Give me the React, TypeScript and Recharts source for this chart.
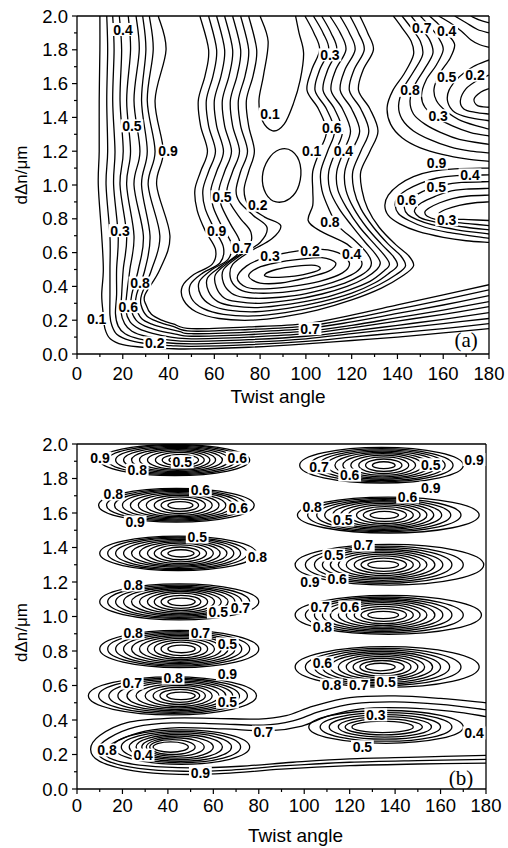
import { ComposedChart, Line, XAxis, YAxis, ReferenceLine } from "recharts";

type Pt = [number, number];
type Tag = [string, number, number];

// ---------- panel (a) : contour lines (twist angle, d*dn) ----------
const aLeftFamily: Pt[][] = [
  [[10.0,2.0],[10.0,1.8],[9.7,1.5],[9.7,1.2],[9.3,1.0],[10.8,0.7],[11.5,0.5],[10.8,0.35],[11.5,0.23],[12.2,0.15],[14.5,0.09],[20,0.055],[30,0.038],[40,0.032],[50,0.03],[75,0.04],[100,0.06],[120,0.08],[140,0.1],[160,0.125],[180,0.15]],
  [[13.0,2.0],[13.4,1.8],[13.0,1.5],[13.4,1.2],[12.7,1.0],[14.4,0.7],[14.4,0.5],[14.4,0.35],[14.4,0.23],[15.2,0.17],[17.5,0.115],[23,0.08],[32,0.058],[41,0.05],[50,0.045],[75,0.055],[100,0.075],[120,0.1],[140,0.125],[160,0.15],[180,0.18]],
  [[15.6,2.0],[16.2,1.8],[15.6,1.5],[16.6,1.2],[16.0,1.0],[18.0,0.7],[17.3,0.5],[17.3,0.35],[16.8,0.24],[18,0.165],[21,0.12],[27,0.09],[36,0.07],[50,0.06],[75,0.07],[100,0.09],[120,0.12],[140,0.15],[160,0.18],[180,0.21]],
  [[18.5,2.0],[19.5,1.8],[18.8,1.5],[20.2,1.2],[18.8,1.0],[21.7,0.7],[20.2,0.5],[19.5,0.35],[19.2,0.25],[20.8,0.18],[24,0.135],[30,0.105],[39,0.085],[50,0.075],[75,0.085],[100,0.105],[120,0.135],[140,0.17],[160,0.205],[180,0.245]],
  [[22.4,2.0],[23.4,1.8],[21.7,1.5],[23.4,1.2],[21.7,1.0],[24.9,0.7],[23.1,0.5],[21.7,0.35],[21.3,0.26],[23.2,0.19],[27,0.15],[33,0.122],[41,0.1],[50,0.09],[75,0.1],[100,0.12],[120,0.155],[140,0.195],[160,0.235],[180,0.28]],
  [[25.8,2.0],[27.2,1.8],[24.9,1.5],[27.5,1.2],[24.9,1.0],[29.0,0.7],[26.8,0.5],[23.9,0.35],[23.6,0.27],[25.8,0.2],[30,0.163],[36,0.137],[43,0.118],[50,0.105],[75,0.115],[100,0.135],[120,0.17],[140,0.215],[160,0.26],[180,0.31]],
  [[28.7,2.0],[30.1,1.8],[28.2,1.5],[30.7,1.2],[28.2,1.0],[31.9,0.7],[29.7,0.5],[26.0,0.35],[25.8,0.28],[28.2,0.21],[33,0.175],[39,0.152],[45,0.133],[50,0.12],[75,0.13],[100,0.15],[120,0.19],[140,0.24],[160,0.29],[180,0.345]],
  [[31.6,2.0],[33.3,1.8],[30.7,1.5],[34.1,1.2],[31.1,1.0],[36.2,0.7],[32.6,0.5],[28.2,0.35],[28.0,0.29],[30.5,0.225],[35.5,0.19],[42,0.163],[50,0.135],[75,0.145],[100,0.165],[120,0.21],[140,0.265],[160,0.32],[180,0.38]],
  [[35.5,2.0],[38.9,1.8],[34.1,1.5],[37.7,1.2],[34.8,1.0],[40.6,0.7],[36.2,0.5],[29.7,0.35],[30.2,0.29],[32.5,0.235],[37,0.2],[42,0.178],[50,0.15],[75,0.16],[100,0.18],[120,0.23],[140,0.29],[160,0.35],[180,0.41]],
];

const aBowlFamily: Pt[][] = [
  [[53.7,2.0],[57.5,1.8],[56,1.65],[53,1.5],[54,1.35],[57,1.2],[54,1.08],[51.5,0.97],[52.5,0.85],[56,0.73],[60.5,0.62],[59,0.53],[51,0.47],[46,0.40],[46.5,0.32],[52,0.25],[62,0.21],[76,0.2],[90,0.22],[105,0.26],[120,0.32],[133,0.39],[142,0.46],[147,0.52],[145,0.58],[139,0.65],[132,0.75],[127,0.86],[124.5,0.97],[124,1.08],[128,1.2],[131.5,1.32],[128,1.45],[123,1.56],[125,1.68],[129.5,1.8],[127,1.9],[123.6,2.0]],
  [[57.5,2.0],[61,1.8],[59.5,1.65],[56.5,1.5],[57.5,1.35],[60.5,1.2],[57.5,1.08],[55,0.97],[56,0.86],[60,0.74],[64,0.63],[62.5,0.54],[55,0.48],[49.5,0.41],[50,0.33],[55,0.27],[64,0.235],[77,0.225],[91,0.245],[106,0.285],[120,0.34],[132,0.41],[139.5,0.47],[143.5,0.52],[141.5,0.58],[136,0.65],[129.5,0.75],[124,0.86],[121,0.97],[120.5,1.08],[124,1.2],[127.5,1.32],[124,1.45],[119,1.56],[121,1.68],[125.5,1.8],[123,1.9],[119.3,2.0]],
  [[61,2.0],[64.5,1.8],[63,1.65],[60,1.5],[61,1.35],[64,1.2],[61,1.08],[58.5,0.97],[59.5,0.87],[63.5,0.75],[67.5,0.65],[66,0.56],[59,0.5],[53.5,0.43],[54,0.35],[58.5,0.29],[66,0.26],[78,0.25],[92,0.27],[107,0.31],[120,0.36],[130,0.42],[136.5,0.48],[140,0.525],[138,0.58],[133,0.65],[126.5,0.75],[121,0.86],[117.5,0.97],[117,1.08],[120,1.2],[123.5,1.32],[120,1.45],[115,1.56],[117,1.68],[121.5,1.8],[119,1.9],[114.9,2.0]],
  [[64.5,2.0],[68,1.8],[66.5,1.65],[63.5,1.5],[64.5,1.35],[67.5,1.2],[64.5,1.08],[62,0.97],[63,0.88],[67,0.77],[71,0.67],[70,0.59],[63,0.52],[57,0.45],[57.5,0.37],[61.5,0.31],[68,0.285],[79,0.275],[93,0.295],[107,0.33],[119,0.38],[128,0.43],[134,0.49],[136.5,0.53],[134.5,0.58],[130,0.65],[123.5,0.75],[118,0.86],[114,0.97],[113.5,1.08],[116.5,1.2],[119.5,1.32],[116,1.45],[111,1.56],[113,1.68],[117.5,1.8],[115,1.9],[110.5,2.0]],
  [[68,2.0],[71.5,1.8],[70,1.65],[67,1.5],[68,1.35],[71,1.2],[68,1.08],[65.5,0.97],[67,0.89],[71.5,0.8],[76,0.72],[75,0.63],[67,0.55],[60.5,0.47],[61,0.39],[64.5,0.33],[70,0.31],[80,0.30],[94,0.32],[107,0.355],[118,0.40],[126,0.45],[131,0.5],[132.5,0.54],[130.5,0.59],[126,0.66],[120,0.76],[114.5,0.86],[110.5,0.97],[110,1.08],[113,1.2],[116,1.32],[112.5,1.45],[107.5,1.56],[109.5,1.68],[113.5,1.8],[111,1.9],[106.9,2.0]],
  [[71.5,2.0],[75,1.8],[73.5,1.65],[70.5,1.5],[71.5,1.35],[74.5,1.2],[71.5,1.08],[69.5,0.97],[71,0.9],[77,0.82],[83,0.75],[80,0.66],[71,0.58],[64,0.5],[64,0.42],[67.5,0.36],[73,0.335],[82,0.33],[95,0.345],[107,0.38],[117,0.42],[124,0.465],[128,0.51],[128.5,0.55],[126.5,0.6],[121.5,0.67],[114,0.76],[110,0.86],[107,0.97],[106.5,1.08],[109.5,1.2],[112.5,1.32],[109,1.45],[104,1.56],[106,1.68],[110,1.8],[107.5,1.9],[103.3,2.0]],
  [[75,2.0],[78.5,1.8],[77,1.65],[74,1.5],[75,1.35],[77.5,1.2],[75,1.08],[73,0.97],[75,0.88],[82,0.81],[89,0.76],[85,0.68],[76,0.61],[68,0.53],[67,0.45],[70,0.39],[75,0.365],[84,0.36],[96,0.375],[107,0.405],[116,0.445],[122,0.485],[124.5,0.53],[123,0.58],[118,0.65],[106,0.73],[101,0.79],[103,0.88],[103,0.97],[103,1.08],[106,1.2],[109,1.32],[105.5,1.45],[100.5,1.56],[102.5,1.68],[106,1.8],[103.5,1.9],[99.6,2.0]],
];

const aValleyLine: Pt[] = [[80,2.0],[83.5,1.85],[81.5,1.65],[79.5,1.5],[81,1.38],[85.5,1.32],[90.5,1.36],[94.5,1.48],[97.5,1.62],[99,1.78],[97,1.9],[95.5,2.0]];

const aRightFamily: Pt[][] = [
  [[138.2,2.0],[142,1.93],[146,1.85],[147,1.77],[143,1.66],[138,1.56],[135.5,1.46],[137,1.36],[142,1.28],[150,1.22],[160,1.18],[170,1.155],[180,1.14]],
  [[142,2.0],[146,1.93],[150,1.85],[151,1.77],[147,1.67],[142.5,1.57],[140.5,1.47],[142,1.39],[147,1.32],[154,1.27],[163,1.225],[172,1.2],[180,1.19]],
  [[146,2.0],[150,1.93],[154,1.86],[155.5,1.78],[152,1.69],[147.5,1.59],[145.5,1.5],[147,1.42],[152,1.36],[159,1.31],[167,1.27],[180,1.24]],
  [[150,2.0],[154,1.94],[158,1.87],[160,1.8],[157,1.71],[152.5,1.62],[150.5,1.53],[152,1.46],[157,1.4],[164,1.35],[172,1.31],[180,1.29]],
  [[154,2.0],[158,1.95],[162,1.89],[165,1.83],[163,1.75],[158.5,1.66],[156,1.57],[157,1.5],[161,1.44],[168,1.38],[180,1.33]],
  [[180,1.74],[173,1.7],[167,1.64],[162.5,1.56],[162,1.49],[165,1.43],[171,1.4],[180,1.38]],
  [[180,1.65],[175,1.62],[170,1.57],[167.5,1.5],[169,1.45],[174,1.43],[180,1.42]],
  [[180,1.57],[176.5,1.55],[173.5,1.51],[175,1.47],[180,1.46]],
  [[158,2.0],[163,1.96],[168,1.91],[172,1.86],[176,1.83],[180,1.815]],
  [[165,2.0],[170,1.96],[175,1.92],[180,1.9]],
  [[172,2.0],[176,1.975],[180,1.96]],
  [[180,1.1],[165,1.095],[155,1.08],[147,1.05],[140.5,1.0],[136,0.94],[134.5,0.88],[136,0.82],[141,0.77],[149,0.725],[160,0.69],[170,0.67],[180,0.66]],
  [[180,1.06],[166,1.055],[157,1.04],[150,1.01],[144,0.97],[140,0.925],[139,0.88],[140.5,0.83],[145,0.79],[152,0.75],[162,0.72],[180,0.685]],
  [[180,1.02],[168,1.015],[160,1.0],[153.5,0.975],[148,0.94],[144,0.9],[143,0.865],[144.5,0.825],[148.5,0.795],[155,0.765],[166,0.735],[180,0.71]],
  [[180,0.98],[170,0.975],[162,0.96],[156,0.93],[150.5,0.895],[148,0.865],[147.5,0.84],[149.5,0.81],[153.5,0.79],[160,0.77],[170,0.75],[180,0.735]],
  [[180,0.94],[171,0.935],[164,0.92],[158.5,0.895],[154,0.865],[152,0.84],[153,0.815],[157,0.795],[164,0.78],[172,0.77],[180,0.76]],
  [[180,0.9],[174,0.895],[167,0.88],[161,0.855],[158,0.83],[159.5,0.81],[164,0.8],[171,0.795],[180,0.79]],
];

const aClosedLoops: Pt[][] = [
  [[81,1.05],[83.5,1.15],[88.5,1.21],[94,1.2],[97.5,1.12],[97,1.0],[93,0.92],[87,0.9],[82.5,0.95]],
  [[70,0.45],[74,0.52],[82,0.57],[92,0.6],[104,0.62],[114,0.6],[119,0.54],[116,0.48],[106,0.43],[94,0.4],[82,0.385],[74,0.395]],
  [[75,0.46],[79,0.51],[87,0.54],[97,0.56],[107,0.57],[113,0.54],[110,0.49],[100,0.45],[89,0.42],[80,0.42]],
  [[82,0.47],[87,0.5],[96,0.52],[104,0.525],[106,0.5],[99,0.47],[90,0.455],[84,0.455]],
];

const aLabels: Tag[] = [
  ["0.4",20.1,1.92],["0.5",24,1.35],["0.9",39.8,1.2],["0.3",18.8,0.73],["0.8",27.5,0.42],["0.6",22.4,0.28],["0.1",8.6,0.21],["0.2",34,0.066],
  ["0.5",63.3,0.93],["0.9",61,0.73],["0.7",72,0.63],["0.2",79,0.88],["0.3",84.3,0.58],["0.2",101.8,0.61],["0.8",110.5,0.78],["0.4",120,0.59],["0.7",101.8,0.15],
  ["0.3",110.5,1.77],["0.1",84.3,1.42],["0.6",111.3,1.34],["0.1",102.5,1.2],["0.4",116.4,1.2],
  ["0.7",150.6,1.93],["0.4",161.5,1.91],["0.8",145.5,1.56],["0.5",161.5,1.64],["0.2",173.9,1.65],["0.3",157.8,1.41],["0.9",157.1,1.13],["0.4",171.7,1.06],
  ["0.6",144,0.91],["0.5",157,0.99],["0.3",161.5,0.795],
];

// ---------- panel (b) : nested oval contours, each ring = [left, right, half height] ----------
const bLeftY = [1.907, 1.645, 1.366, 1.085, 0.812, 0.54, 0.243];
const bRightY = [1.877, 1.588, 1.3, 1.009, 0.707, 0.36];

const ringsL1 = [[10,76,0.09],[13.5,73,0.085],[17,70,0.079],[20.5,67,0.073],[24,64,0.067],[27.5,61,0.06],[31,58.5,0.053],[34.5,56,0.044],[37.5,53.5,0.033],[40.5,51,0.019]];
const ringsL2 = [[9.5,78,0.098],[13,74.5,0.092],[16.5,71.5,0.086],[20,68.5,0.08],[23.5,65.5,0.073],[27,62.5,0.066],[30.5,59.5,0.058],[34,56.5,0.048],[37,53.5,0.036],[40,51,0.021]];
const ringsL3 = [[10,79,0.1],[13.5,75,0.094],[17,72,0.088],[20.5,69,0.081],[24,66,0.074],[27.5,63,0.067],[31,60,0.059],[34,57,0.049],[37,54,0.037],[40,51.5,0.021]];
const ringsL4 = [[10,80,0.104],[13.5,76,0.097],[17,72.5,0.09],[20.5,69.5,0.083],[24,66.5,0.076],[27.5,63.5,0.068],[31,60.5,0.06],[34,57.5,0.05],[37,54.5,0.038],[40,52,0.022]];
const ringsL5 = [[10,80,0.108],[13.5,76,0.1],[17,72.5,0.093],[20.5,69.5,0.086],[24,66.5,0.078],[27.5,63.5,0.07],[31,60.5,0.061],[34,57.5,0.051],[37,54.5,0.039],[40,52,0.022]];
const ringsL6 = [[5,79,0.11],[9.5,75,0.102],[14,71.5,0.095],[18,68.5,0.087],[22,65.5,0.079],[26,62.5,0.07],[30,59.5,0.061],[33.5,56.5,0.05],[36.5,54,0.038],[39.5,52,0.022]];
const ringsL7 = [[16,76,0.1],[19.5,72,0.091],[23,68,0.082],[26,64,0.073],[28.5,60,0.064],[30.5,56,0.054],[32,52,0.043],[33.5,49,0.03]];

const ringsR1 = [[98,170,0.103],[102.5,165.5,0.096],[106.5,162,0.089],[110,158.5,0.082],[113.5,155,0.075],[117,152,0.067],[120.5,149,0.058],[124,146,0.048],[127,143,0.036],[130,140,0.02]];
const ringsR2 = [[97,177,0.104],[101.5,169,0.097],[105.5,164.5,0.09],[109,160.5,0.083],[112.5,157,0.076],[116,154,0.068],[119.5,151,0.059],[123,148,0.049],[126,145,0.037],[129,141.5,0.021]];
const ringsR3 = [[96,179,0.118],[100.5,170,0.108],[104.5,165,0.099],[108,161,0.09],[111.5,157.5,0.081],[115,154,0.072],[118.5,151,0.062],[122,148,0.051],[125,145,0.038],[128,141.5,0.021]];
const ringsR4 = [[96,178,0.113],[100.5,170,0.104],[104.5,165,0.096],[108,161,0.088],[111.5,157.5,0.08],[115,154,0.071],[118.5,151,0.061],[122,148,0.05],[125,145,0.037],[128,141.5,0.021]];
const ringsR5 = [[96,177,0.118],[100.5,169,0.108],[104.5,164,0.099],[108,160,0.09],[111.5,156.5,0.081],[115,153,0.072],[118.5,150,0.062],[121.5,147,0.051],[124.5,144,0.038],[127,140,0.022]];
const ringsR6 = [[102,170,0.095],[107,165,0.083],[111,160,0.071],[115,156,0.059],[118,152,0.046],[121,148,0.033]];

const bOpenLines: Pt[][] = [
  [[180,0.5],[160,0.525],[140,0.54],[120,0.53],[104,0.48],[92,0.425],[80,0.405],[60,0.41],[40,0.41],[22,0.385],[10,0.31],[6,0.23],[10,0.16],[25,0.105],[45,0.085],[65,0.09],[90,0.115],[120,0.135],[150,0.145],[180,0.15]],
  [[180,0.46],[160,0.49],[140,0.505],[122,0.495],[107,0.45],[95,0.395],[82,0.37],[62,0.378],[42,0.383],[26,0.36],[14,0.295],[9,0.225],[13,0.165],[27,0.12],[47,0.103],[68,0.11],[92,0.135],[120,0.155],[150,0.165],[180,0.172]],
  [[180,0.42],[165,0.45],[145,0.47],[125,0.465],[111,0.425],[99,0.365],[85,0.338],[65,0.348],[45,0.356],[30,0.335],[18,0.28],[12,0.22],[16,0.17],[30,0.135],[50,0.122],[72,0.132],[95,0.155],[120,0.175],[150,0.185],[180,0.195]],
];

const bLabels: Tag[] = [
  ["0.9",10.1,1.919],["0.8",26.5,1.849],["0.5",46.3,1.896],["0.6",70.5,1.919],
  ["0.8",16,1.71],["0.6",54.3,1.733],["0.6",71,1.629],["0.9",25.6,1.548],
  ["0.5",52.9,1.461],["0.8",79.4,1.345],
  ["0.8",24.7,1.183],["0.5",62.2,1.026],["0.7",71.9,1.049],
  ["0.8",24.7,0.904],["0.7",54.3,0.904],["0.5",66.2,0.841],
  ["0.7",24.3,0.614],["0.8",42.3,0.643],["0.9",66.2,0.667],["0.5",66.2,0.504],
  ["0.8",13.2,0.226],["0.4",29.1,0.197],["0.9",54.3,0.093],
  ["0.7",82,0.33],
  ["0.7",106.5,1.867],["0.6",120,1.82],["0.5",155.7,1.88],["0.9",174.7,1.91],["0.9",155.7,1.745],
  ["0.8",103.5,1.635],["0.6",145.5,1.693],["0.5",117,1.56],
  ["0.7",126,1.414],["0.5",113,1.356],["0.9",102.5,1.2],["0.6",114.5,1.215],
  ["0.7",107,1.055],["0.6",120,1.055],["0.8",108,0.94],
  ["0.6",108,0.73],["0.8",112,0.603],["0.7",124,0.603],["0.5",136,0.62],
  ["0.3",131.5,0.43],["0.5",125.6,0.245],["0.4",174.7,0.325],
];

const xTicks = [0, 10, 20, 30, 40, 50, 60, 70, 80, 90, 100, 110, 120, 130, 140, 150, 160, 170, 180];
const yTicks = [0, 0.1, 0.2, 0.3, 0.4, 0.5, 0.6, 0.7, 0.8, 0.9, 1.0, 1.1, 1.2, 1.3, 1.4, 1.5, 1.6, 1.7, 1.8, 1.9, 2.0];

const SANS = '"Liberation Sans", Arial, Helvetica, sans-serif';
const SERIF = '"Liberation Serif", "Times New Roman", serif';

// smooth curve through the points (cardinal spline), open or closed
const cardinal = (k: number, closed: boolean) => (context: any) => {
  let pts: Pt[] = [];
  return {
    areaStart() {},
    areaEnd() {},
    lineStart() { pts = []; },
    point(x: number, y: number) { pts.push([+x, +y]); },
    lineEnd() {
      const n = pts.length;
      if (!n) return;
      const at = (i: number) => (closed ? pts[(i + n) % n] : pts[Math.max(0, Math.min(n - 1, i))]);
      context.moveTo(pts[0][0], pts[0][1]);
      const segs = closed ? n : n - 1;
      for (let i = 0; i < segs; i++) {
        const p0 = at(i - 1), p1 = at(i), p2 = at(i + 1), p3 = at(i + 2);
        context.bezierCurveTo(
          p1[0] + k * (p2[0] - p0[0]), p1[1] + k * (p2[1] - p0[1]),
          p2[0] - k * (p3[0] - p1[0]), p2[1] - k * (p3[1] - p1[1]),
          p2[0], p2[1]
        );
      }
      if (closed) context.closePath();
    },
  };
};
const openCurve = cardinal(1 / 6, false);
const loopCurve = cardinal(1 / 6, true);
const ovalCurve = cardinal(0.276, true); // 4 extreme points -> ellipse

const toData = (pts: Pt[]) => pts.map(([x, y]) => ({ x, y }));
const ring = (cy: number, r: number[]): Pt[] => {
  const [l, rr, h] = r;
  const mid = (l + rr) / 2;
  return [[l, cy], [mid, cy + h], [rr, cy], [mid, cy - h]];
};

const renderLabel = (p: any) => {
  const { cx, cy, payload, index } = p;
  if (cx == null || cy == null) return <g key={`l${index}`} />;
  const w = payload.t.length * 6.6 + 3;
  return (
    <g key={`l${index}`}>
      <rect x={cx - w / 2} y={cy - 6.5} width={w} height={13} fill="#fff" />
      <text x={cx} y={cy + 5} textAnchor="middle" fontSize={14} fontWeight="bold" fontFamily={SANS} fill="#000">
        {payload.t}
      </text>
    </g>
  );
};

const renderTag = (p: any) => {
  const { cx, cy, payload, index } = p;
  if (cx == null || cy == null) return <g key={`t${index}`} />;
  return (
    <text key={`t${index}`} x={cx} y={cy + 7} textAnchor="middle" fontSize={21} fontFamily={SERIF} fill="#000">
      {payload.t}
    </text>
  );
};

interface PanelProps {
  lines: Pt[][];
  loops: Pt[][];
  ovals: Pt[][];
  labels: Tag[];
  tag: Tag;
  height: number;
  right: number;
  axisH: number;
  bottom: number;
  tickGap: number;
  titleGap: number;
  titleDx: number;
  yTitleDy: number;
}

const ContourPanel = ({ lines, loops, ovals, labels, tag, height, right, axisH, bottom, tickGap, titleGap, titleDx, yTitleDy }: PanelProps) => {
  const XTick = (p: any) => {
    const v = p.payload.value;
    const major = v % 20 === 0;
    return (
      <g>
        <line x1={p.x} x2={p.x} y1={p.y} y2={p.y + (major ? 5 : 3)} stroke="#000" strokeWidth={1.2} />
        {major && (
          <text x={p.x} y={p.y + tickGap} textAnchor="middle" fontSize={18.5} fontFamily={SANS} fill="#000">
            {v}
          </text>
        )}
      </g>
    );
  };
  const YTick = (p: any) => {
    const v = p.payload.value;
    const major = Math.round(v * 10) % 2 === 0;
    return (
      <g>
        <line x1={p.x - (major ? 5 : 3)} x2={p.x} y1={p.y} y2={p.y} stroke="#000" strokeWidth={1.2} />
        {major && (
          <text x={p.x - 9} y={p.y + 6.5} textAnchor="end" fontSize={18.5} fontFamily={SANS} fill="#000">
            {v.toFixed(1)}
          </text>
        )}
      </g>
    );
  };
  const XTitle = (p: any) => {
    const vb = p.viewBox || { x: 77, y: 0, width: 410 };
    return (
      <text x={vb.x + vb.width / 2 + titleDx} y={vb.y + titleGap} textAnchor="middle" fontSize={19} fontFamily={SANS} fill="#000">
        Twist angle
      </text>
    );
  };
  const YTitle = (p: any) => {
    const vb = p.viewBox || { x: 0, y: 16, width: 77, height: 338 };
    const cy = vb.y + vb.height / 2 + yTitleDy;
    return (
      <text x={21} y={cy} transform={`rotate(-90, 21, ${cy})`} textAnchor="middle" dominantBaseline="central" fontSize={17} fontFamily={SANS} fill="#000">
        dΔn/μm
      </text>
    );
  };
  const axisStyle = { stroke: "#000", strokeWidth: 1.3 };
  const lineProps = { dataKey: "y", stroke: "#000", strokeWidth: 1.3, dot: false, activeDot: false, isAnimationActive: false };

  return (
    <ComposedChart width={508} height={height} margin={{ top: 16, right, bottom, left: 0 }}>
      <XAxis type="number" dataKey="x" domain={[0, 180]} ticks={xTicks} interval={0} tickSize={0} tickMargin={0} tickLine={false} tick={XTick} axisLine={axisStyle} height={axisH} allowDataOverflow label={{ content: XTitle }} />
      <YAxis type="number" domain={[0, 2]} ticks={yTicks} interval={0} tickSize={0} tickMargin={0} tickLine={false} tick={YTick} axisLine={axisStyle} width={77} allowDataOverflow label={{ content: YTitle }} />
      <ReferenceLine y={2} stroke="#000" strokeWidth={1.3} />
      <ReferenceLine x={180} stroke="#000" strokeWidth={1.3} />
      {lines.map((pts, i) => (
        <Line key={`o${i}`} data={toData(pts)} type={openCurve as any} {...lineProps} />
      ))}
      {loops.map((pts, i) => (
        <Line key={`c${i}`} data={toData(pts)} type={loopCurve as any} {...lineProps} />
      ))}
      {ovals.map((pts, i) => (
        <Line key={`e${i}`} data={toData(pts)} type={ovalCurve as any} {...lineProps} />
      ))}
      <Line data={labels.map(([t, x, y]) => ({ t, x, y }))} dataKey="y" stroke="none" dot={renderLabel} activeDot={false} isAnimationActive={false} />
      <Line data={[{ t: tag[0], x: tag[1], y: tag[2] }]} dataKey="y" stroke="none" dot={renderTag} activeDot={false} isAnimationActive={false} />
    </ComposedChart>
  );
};

const aLines = [...aLeftFamily, ...aBowlFamily, aValleyLine, ...aRightFamily];
const bLeftRings = [ringsL1, ringsL2, ringsL3, ringsL4, ringsL5, ringsL6, ringsL7];
const bRightRings = [ringsR1, ringsR2, ringsR3, ringsR4, ringsR5, ringsR6];
const bOvals: Pt[][] = [
  ...bLeftRings.flatMap((rs, i) => rs.map((r) => ring(bLeftY[i], r))),
  ...bRightRings.flatMap((rs, i) => rs.map((r) => ring(bRightY[i], r))),
];

export default function App() {
  return (
    <div style={{ position: "absolute", left: 0, top: 0, width: 508, height: 848, background: "#fff", fontFamily: SANS }}>
      <div style={{ position: "absolute", left: 0, top: 0 }}>
        <ContourPanel
          lines={aLines}
          loops={aClosedLoops}
          ovals={[]}
          labels={aLabels}
          tag={["(a)", 170, 0.083]}
          height={420}
          right={19}
          axisH={60}
          bottom={6}
          tickGap={26}
          titleGap={49}
          titleDx={-5}
          yTitleDy={-10}
        />
      </div>
      <div style={{ position: "absolute", left: 0, top: 428 }}>
        <ContourPanel
          lines={bOpenLines}
          loops={[]}
          ovals={bOvals}
          labels={bLabels}
          tag={["(b)", 169, 0.064]}
          height={420}
          right={22}
          axisH={55}
          bottom={4}
          tickGap={23}
          titleGap={53}
          titleDx={14}
          yTitleDy={16}
        />
      </div>
    </div>
  );
}
